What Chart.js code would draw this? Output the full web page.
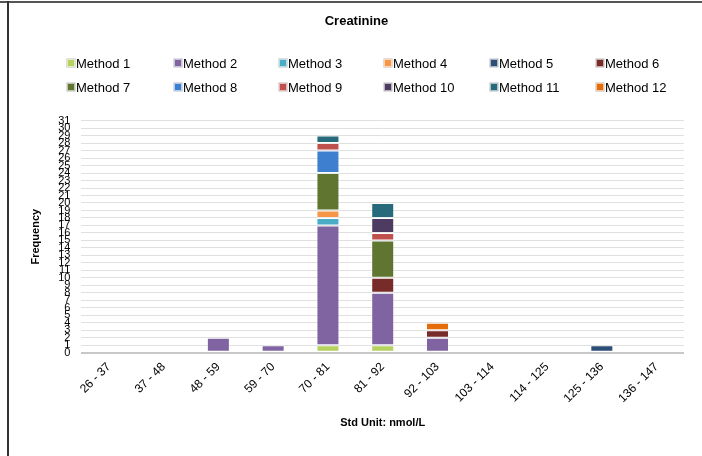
<!DOCTYPE html>
<html>
<head>
<meta charset="utf-8">
<script src="https://cdn.jsdelivr.net/npm/chart.js@4.4.0/dist/chart.umd.min.js"></script>
<style>
  html, body { margin: 0; padding: 0; background: #fff; }
  #wrap { position: relative; width: 702px; height: 456px; overflow: hidden; }
  #wrap canvas { position: absolute; left: 0; top: 0; }
  #bordTop { position: absolute; left: 0; top: 1px; width: 702px; height: 2px; background: #555; }
  #bordLeft { position: absolute; left: 7px; top: 1px; width: 2px; height: 456px; background: #333; }
  #legend { position: absolute; left: 0; top: 0; width: 702px; height: 110px; font-family: "Liberation Sans", Arial, sans-serif; font-size: 13px; color: #000; }
  .li { position: absolute; height: 16px; line-height: 16px; white-space: nowrap; }
  .sw { display: inline-block; width: 6px; height: 6px; margin-right: 1px; vertical-align: 1px; border: 0.5px solid rgba(255,255,255,0.6); box-shadow: 0 0 0 0.5px #bbb; }
</style>
</head>
<body>
<div id="wrap">
  <canvas id="c" width="702" height="456"></canvas>
  <div id="bordTop"></div>
  <div id="bordLeft"></div>
  <div id="legend"></div>
</div>
<script>
const categories = ["26 - 37","37 - 48","48 - 59","59 - 70","70 - 81","81 - 92","92 - 103","103 - 114","114 - 125","125 - 136","136 - 147"];
const seriesNames = ["Method 1","Method 2","Method 3","Method 4","Method 5","Method 6","Method 7","Method 8","Method 9","Method 10","Method 11","Method 12"];
const method1  = [0,0,0,0,1,1,0,0,0,0,0];
const method2  = [0,0,2,1,16,7,2,0,0,0,0];
const method3  = [0,0,0,0,1,0,0,0,0,0,0];
const method4  = [0,0,0,0,1,0,0,0,0,0,0];
const method5  = [0,0,0,0,0,0,0,0,0,1,0];
const method6  = [0,0,0,0,0,2,1,0,0,0,0];
const method7  = [0,0,0,0,5,5,0,0,0,0,0];
const method8  = [0,0,0,0,3,0,0,0,0,0,0];
const method9  = [0,0,0,0,1,1,0,0,0,0,0];
const method10 = [0,0,0,0,0,2,0,0,0,0,0];
const method11 = [0,0,0,0,1,2,0,0,0,0,0];
const method12 = [0,0,0,0,0,0,1,0,0,0,0];
const yTicks = [0,1,2,3,4,5,6,7,8,9,10,11,12,13,14,15,16,17,18,19,20,21,22,23,24,25,26,27,28,29,30,31];

const seriesValues = [method1,method2,method3,method4,method5,method6,method7,method8,method9,method10,method11,method12];
const colors = ["#B5D15E","#8064A2","#4BACC6","#F79646","#2C4D75","#772C2A","#5F7530","#3F7FCF","#C0504D","#4D3B62","#276A7C","#E46C0A"];

const datasets = seriesNames.map((n, i) => ({
  label: n,
  data: seriesValues[i].map(v => v === 0 ? null : v),
  backgroundColor: colors[i],
  borderColor: "rgba(255,255,255,0.35)",
  borderWidth: 1,
  borderSkipped: false,
  categoryPercentage: 1.0,
  barPercentage: 0.42
}));

// HTML legend in a fixed grid
const legend = document.getElementById('legend');
const colX = [67,174,279,384,490,596];
const rowY = [56,80];
seriesNames.forEach((n, i) => {
  const d = document.createElement('div');
  d.className = 'li';
  d.style.left = colX[i % 6] + 'px';
  d.style.top = rowY[Math.floor(i / 6)] + 'px';
  const s = document.createElement('span');
  s.className = 'sw';
  s.style.background = colors[i];
  d.appendChild(s);
  d.appendChild(document.createTextNode(n));
  legend.appendChild(d);
});

new Chart(document.getElementById('c'), {
  type: 'bar',
  data: { labels: categories, datasets: datasets },
  options: {
    responsive: false,
    animation: false,
    layout: { padding: { left: 29, right: 18, top: 0, bottom: 26 } },
    plugins: {
      legend: { display: false },
      tooltip: { enabled: false },
      title: {
        display: true,
        text: 'Creatinine',
        color: '#000',
        font: { family: '"Liberation Sans", Arial, sans-serif', size: 13, weight: 'bold' },
        padding: { top: 14, bottom: 91 }
      }
    },
    scales: {
      x: {
        stacked: true,
        grid: { display: false, drawTicks: false },
        border: { display: false },
        ticks: {
          color: '#000',
          font: { family: '"Liberation Sans", Arial, sans-serif', size: 12 },
          minRotation: 45, maxRotation: 45, autoSkip: false, padding: 7
        },
        title: {
          display: true,
          text: 'Std Unit: nmol/L',
          color: '#000',
          font: { family: '"Liberation Sans", Arial, sans-serif', size: 11, weight: 'bold' },
          padding: { top: 4, bottom: 0 }
        }
      },
      y: {
        stacked: true,
        min: 0, max: 31,
        afterBuildTicks: (axis) => { axis.ticks = yTicks.map(v => ({ value: v })); },
        grid: {
          color: (ctx) => ctx.tick && ctx.tick.value === 0 ? '#C8C8C8' : '#E0E0E0',
          lineWidth: (ctx) => ctx.tick && ctx.tick.value === 0 ? 2 : 1,
          drawTicks: false
        },
        border: { display: false },
        ticks: {
          color: '#000',
          font: { family: '"Liberation Sans", Arial, sans-serif', size: 11 },
          autoSkip: false, padding: 11
        },
        title: {
          display: true,
          text: 'Frequency',
          color: '#000',
          font: { family: '"Liberation Sans", Arial, sans-serif', size: 11, weight: 'bold' },
          padding: { top: 0, bottom: 5 }
        }
      }
    }
  }
});
</script>
</body>
</html>
